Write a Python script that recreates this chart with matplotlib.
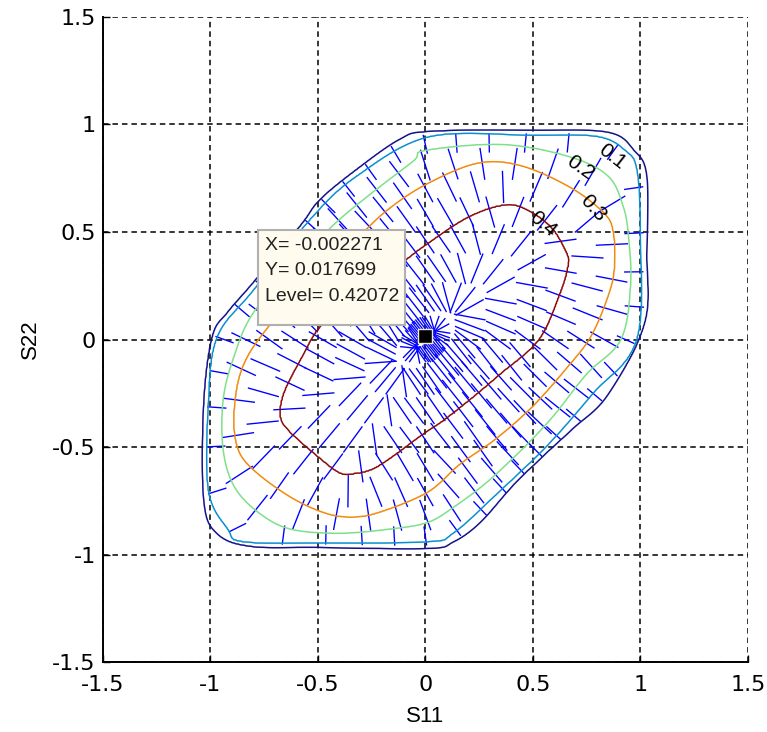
import numpy as np
import matplotlib
matplotlib.use("Agg")
import matplotlib.pyplot as plt
from matplotlib.patches import Rectangle

# ---------------- data ----------------
peak_value = 0.42072
peak_x, peak_y = -0.002271, 0.017699

level_values = [0.4, 0.3, 0.2, 0.1, 0.0]

# vertices of each contour level (S11, S22)
lev04_x = [0.0, 0.18, 0.33, 0.44, 0.58, 0.66, 0.665, 0.63, 0.53, 0.35, 0.22, 0.08, -0.01,
           -0.22, -0.335, -0.40, -0.50, -0.63, -0.675, -0.66, -0.58, -0.49, -0.35, -0.22, -0.08]
lev04_y = [0.44, 0.56, 0.62, 0.62, 0.53, 0.40, 0.34, 0.22, 0.0, -0.16, -0.27, -0.38, -0.44,
           -0.59, -0.625, -0.62, -0.545, -0.43, -0.36, -0.25, -0.09, 0.06, 0.16, 0.27, 0.38]

lev03_x = [0.0, 0.24, 0.44, 0.67, 0.83, 0.875, 0.88, 0.85, 0.77, 0.66, 0.50, 0.33, 0.16, 0.01,
           -0.22, -0.35, -0.47, -0.63, -0.80, -0.875, -0.89, -0.85, -0.73, -0.50, -0.33, -0.18]
lev03_y = [0.72, 0.82, 0.81, 0.71, 0.59, 0.50, 0.33, 0.20, 0.014, -0.13, -0.31, -0.46, -0.58, -0.71,
           -0.805, -0.825, -0.805, -0.73, -0.605, -0.50, -0.33, -0.125, 0.06, 0.31, 0.46, 0.60]

lev02_x = [0.0, 0.36, 0.67, 0.85, 0.92, 0.945, 0.955, 0.91, 0.75, 0.60, 0.47, 0.29, 0.13, 0.01,
           -0.16, -0.40, -0.63, -0.78, -0.89, -0.94, -0.94, -0.89, -0.80, -0.60, -0.43, -0.27, -0.056]
lev02_y = [0.88, 0.907, 0.85, 0.76, 0.62, 0.48, 0.25, 0.0, -0.16, -0.35, -0.49, -0.66, -0.78, -0.85,
           -0.88, -0.90, -0.88, -0.80, -0.68, -0.51, -0.28, -0.08, 0.125, 0.35, 0.53, 0.665, 0.83]

lev01_x = [0.02, 0.50, 0.80, 0.93, 0.985, 1.0, 0.985, 0.78, 0.57, 0.33, 0.13, 0.01,
           -0.50, -0.85, -0.92, -1.01, -1.01, -0.97, -0.80, -0.535, -0.32]
lev01_y = [0.944, 0.95, 0.945, 0.88, 0.79, 0.50, 0.0, -0.25, -0.49, -0.72, -0.90, -0.94,
           -0.945, -0.94, -0.88, -0.70, -0.30, 0.01, 0.23, 0.56, 0.76]

lev00_x = [0.02, 0.50, 0.85, 0.97, 1.03, 1.03, 1.02, 0.85, 0.69, 0.57, 0.41, 0.255, 0.13, 0.01,
           -0.50, -0.81, -0.97, -1.03, -1.03, -0.99, -0.92, -0.80, -0.58, -0.49, -0.32, -0.12]
lev00_y = [0.967, 0.972, 0.963, 0.88, 0.76, 0.40, 0.08, -0.255, -0.41, -0.52, -0.675, -0.85, -0.94, -0.97,
           -0.965, -0.96, -0.90, -0.745, -0.30, 0.014, 0.126, 0.265, 0.53, 0.65, 0.79, 0.93]

xticks = [-1.5, -1, -0.5, 0, 0.5, 1, 1.5]
yticks = [-1.5, -1, -0.5, 0, 0.5, 1, 1.5]
tick_labels = ["-1.5", "-1", "-0.5", "0", "0.5", "1", "1.5"]

label_text = ["0.1", "0.2", "0.3", "0.4"]


# ---------------- build the level field ----------------
def smooth_closed(cx, cy, n=12):
    """Catmull-Rom smoothing of a closed polyline (vertices sorted by angle)."""
    cx = np.asarray(cx, float); cy = np.asarray(cy, float)
    o = np.argsort(np.arctan2(cy, cx))
    P = np.stack([cx[o], cy[o]], axis=1)
    m = len(P)
    out = []
    t = np.linspace(0, 1, n, endpoint=False)[:, None]
    for i in range(m):
        p0, p1, p2, p3 = P[(i - 1) % m], P[i], P[(i + 1) % m], P[(i + 2) % m]
        seg = 0.5 * (2 * p1 + (-p0 + p2) * t + (2 * p0 - 5 * p1 + 4 * p2 - p3) * t ** 2
                     + (-p0 + 3 * p1 - 3 * p2 + p3) * t ** 3)
        out.append(seg)
    Q = np.concatenate(out)
    return Q[:, 0], Q[:, 1]


def radial(qx, qy, TH):
    TH = np.arctan2(np.sin(TH), np.cos(TH))
    a = np.arctan2(qy, qx)
    o = np.argsort(a)
    qx, qy, a = qx[o], qy[o], a[o]
    aw = np.concatenate([a, [a[0] + 2 * np.pi]])
    px = np.concatenate([qx, [qx[0]]]); py = np.concatenate([qy, [qy[0]]])
    th = np.where(TH < a[0], TH + 2 * np.pi, TH)
    i = np.clip(np.searchsorted(aw, th) - 1, 0, len(a) - 1)
    x0, y0 = px[i], py[i]
    ex, ey = px[i + 1] - x0, py[i + 1] - y0
    dx, dy = np.cos(TH), np.sin(TH)
    return (x0 * ey - y0 * ex) / (dx * ey - dy * ex)


curves = [smooth_closed(cx, cy) for cx, cy in
          [(lev04_x, lev04_y), (lev03_x, lev03_y), (lev02_x, lev02_y),
           (lev01_x, lev01_y), (lev00_x, lev00_y)]]


def field(X, Y):
    TH = np.arctan2(Y, X)
    R = np.hypot(X, Y)
    rs = [np.zeros_like(R)] + [radial(qx, qy, TH) for qx, qy in curves]
    vals = [peak_value] + level_values
    F = vals[-1] - (R - rs[-1]) * 1.5
    for i in range(len(rs) - 1):
        m = (R >= rs[i]) & (R < rs[i + 1])
        t = (R - rs[i]) / (rs[i + 1] - rs[i])
        F = np.where(m, vals[i] + t * (vals[i + 1] - vals[i]), F)
    return F


gx = np.linspace(-1.5, 1.5, 601)
gy = np.linspace(-1.5, 1.5, 601)
X, Y = np.meshgrid(gx, gy)
F = field(X, Y)
dFdy, dFdx = np.gradient(F, gy, gx)

# ---------------- figure ----------------
fig = plt.figure(figsize=(7.67, 7.32), dpi=100)
ax = fig.add_axes([0.134, 0.095, 0.841, 0.882])
ax.set_xlim(-1.5, 1.5)
ax.set_ylim(-1.5, 1.5)

# gradient segments (sampled along spokes)
angs = np.deg2rad(np.arange(0, 360, 9))
fracs = np.array([0.07, 0.2, 0.34, 0.48, 0.61, 0.73, 0.84, 0.94])
bx, by = curves[-1]
qx, qy, qu, qv = [], [], [], []
for th in angs:
    rb = radial(bx, by, np.array([th]))[0]
    for k, f in enumerate(fracs):
        px, py = f * rb * np.cos(th), f * rb * np.sin(th)
        i = np.argmin(np.abs(gy - py)); j = np.argmin(np.abs(gx - px))
        u, v = dFdx[i, j], dFdy[i, j]
        n = np.hypot(u, v) + 1e-12
        L = 0.09 if (k == 0 or f > 0.9) else 0.15
        qx.append(px); qy.append(py); qu.append(u / n * L); qv.append(v / n * L)
ax.quiver(qx, qy, qu, qv, angles="xy", scale_units="xy", scale=1, pivot="mid",
          headwidth=0, headlength=0, headaxislength=0, width=0.0021, color="#0000ff", zorder=2)

line_colors = ["#12128a", "#0a8fd0", "#7fe08a", "#f08a10", "#8b0a0a"]
ax.contour(X, Y, F, levels=[0.0, 0.1, 0.2, 0.3, 0.4], colors=line_colors, linewidths=1.1, zorder=3)

# contour labels
lab_pos = [(0.87, 0.85, -38), (0.72, 0.80, -35), (0.78, 0.61, -48), (0.545, 0.535, -40)]
for t, (lx, ly, rot) in zip(label_text, lab_pos):
    ax.text(lx, ly, t, rotation=rot, ha="center", va="center", fontsize=15,
            family="Liberation Sans", zorder=5)

# grid and axes styling
ax.set_xticks(xticks); ax.set_xticklabels(tick_labels)
ax.set_yticks(yticks); ax.set_yticklabels(tick_labels)
ax.grid(True, color="black", linestyle=(0, (3.6, 2.6)), linewidth=1.1, zorder=1)
ax.set_axisbelow(True)
for s in ["top", "right"]:
    ax.spines[s].set_visible(False)
for s in ["left", "bottom"]:
    ax.spines[s].set_linewidth(1.4)
ax.tick_params(direction="in", length=5, width=1, labelsize=16)
ax.tick_params(axis="x", pad=9)
ax.tick_params(axis="y", pad=5)
ax.set_xlabel("S11", fontsize=16, family="Liberation Sans", labelpad=8)
ax.set_ylabel("S22", fontsize=16, family="Liberation Sans", labelpad=8)

# data tip
ax.add_patch(Rectangle((-0.777, 0.07), 0.684, 0.44, facecolor="#fffbee", edgecolor="#b0b0b0",
                       linewidth=1.5, zorder=6))
tip_lines = ["X= -0.002271", "Y= 0.017699", "Level= 0.42072"]
for k, t in enumerate(tip_lines):
    ax.text(-0.745, 0.437 - k * 0.118, t, fontsize=14, family="Liberation Sans",
            va="center", ha="left", color="#222222", zorder=7)
ax.plot([peak_x], [peak_y], marker="s", markersize=10, color="black",
        markeredgecolor="#efe8d0", markeredgewidth=1, zorder=8)

fig.savefig("out.png", dpi=100)
